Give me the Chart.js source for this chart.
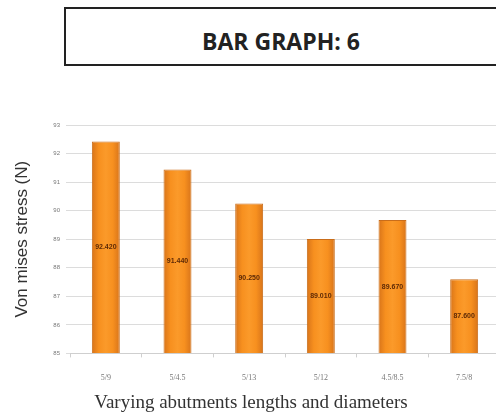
<!DOCTYPE html>
<html>
<head>
<meta charset="utf-8">
<script src="https://cdn.jsdelivr.net/npm/chart.js@4.4.1/dist/chart.umd.min.js"></script>
<style>
  html, body { margin: 0; padding: 0; background: #fff; overflow: hidden; }
  body { width: 496px; height: 414px; position: relative; }
  #titleBox {
    position: absolute; left: 64px; top: 7px; width: 460px; height: 55px;
    border: 2px solid #222; box-sizing: content-box;
  }
  #titleBox span {
    position: absolute; left: 0; width: 430px; top: 17px; line-height: 31px; text-align: center;
    font-family: "Open Sans", sans-serif; font-weight: bold; font-size: 23px; color: #222;
  }
  #chartWrap { position: absolute; left: 0; top: 110px; width: 500px; height: 289px; }
  #xTitle {
    position: absolute; left: 51px; width: 400px; top: 391px; line-height: 22px; text-align: center;
    font-family: "Liberation Serif", serif; font-size: 19px; color: #333;
  }
</style>
</head>
<body>
<div id="titleBox"><span>BAR GRAPH: 6</span></div>
<div id="chartWrap"><canvas id="barChart"></canvas></div>
<div id="xTitle">Varying abutments lengths and diameters</div>
<script>
// chart data
const categories = ["5/9", "5/4.5", "5/13", "5/12", "4.5/8.5", "7.5/8"];
const stressValues = [92.42, 91.44, 90.25, 89.01, 89.67, 87.60];
const valueLabels = ["92.420", "91.440", "90.250", "89.010", "89.670", "87.600"];
const yTicks = [85, 86, 87, 88, 89, 90, 91, 92, 93];

// orange bar with darker sides, like the office-style gradient
function barFill(c) {
    const el = c.chart.getDatasetMeta(0).data[c.dataIndex];
    if (!el || el.x == null || !el.width) return "#f7921e";
    const g = c.chart.ctx.createLinearGradient(el.x - el.width / 2, 0, el.x + el.width / 2, 0);
    g.addColorStop(0, "#d8741a");
    g.addColorStop(0.25, "#f7901f");
    g.addColorStop(0.5, "#fb9a2a");
    g.addColorStop(0.75, "#f7901f");
    g.addColorStop(1, "#d8741a");
    return g;
}

// write each value in the middle of the visible part of its bar
const midLabels = {
    id: "midLabels",
    afterDatasetsDraw(chart) {
        const c = chart.ctx;
        const meta = chart.getDatasetMeta(0);
        const bottom = chart.scales.y.getPixelForValue(yTicks[0]);
        c.save();
        c.font = "bold 7px Arial, sans-serif";
        c.fillStyle = "#5e2a06";
        c.textAlign = "center";
        c.textBaseline = "middle";
        meta.data.forEach((bar, i) => {
            c.fillText(valueLabels[i], bar.x, (bar.y + bottom) / 2);
        });
        c.restore();
    }
};

const ctx = document.getElementById("barChart").getContext("2d");
const chart = new Chart(ctx, {
    type: "bar",
    data: {
        labels: categories,
        datasets: [{
            data: stressValues,
            base: yTicks[0],
            backgroundColor: barFill,
            borderColor: "#c96d1a",
            borderWidth: 1,
            barPercentage: 0.39,
            categoryPercentage: 1
        }]
    },
    options: {
        responsive: true,
        maintainAspectRatio: false,
        animation: false,
        layout: { padding: { top: 15, right: 0, left: 6, bottom: 0 } },
        plugins: {
            legend: { display: false },
            tooltip: { enabled: false }
        },
        scales: {
            x: {
                grid: { display: true, drawOnChartArea: false, tickLength: 4, color: "#cfcfcf", offset: true },
                border: { color: "#cfcfcf" },
                ticks: { color: "#777", font: { size: 8, family: "Liberation Serif" }, padding: 16 }
            },
            y: {
                min: 85,
                max: 93,
                afterBuildTicks: axis => { axis.ticks = yTicks.map(v => ({ value: v })); },
                grid: { color: "#dcdcdc", tickLength: 4 },
                border: { display: false },
                ticks: { color: "#777", font: { size: 6 }, padding: 6 },
                title: {
                    display: true,
                    text: "Von mises stress (N)",
                    color: "#333",
                    font: { size: 17, family: "Liberation Sans" },
                    padding: { top: 6, bottom: 0 }
                },
                afterFit: axis => { axis.width = 64; }
            }
        }
    },
    plugins: [midLabels]
});
chart.update();
</script>
</body>
</html>
